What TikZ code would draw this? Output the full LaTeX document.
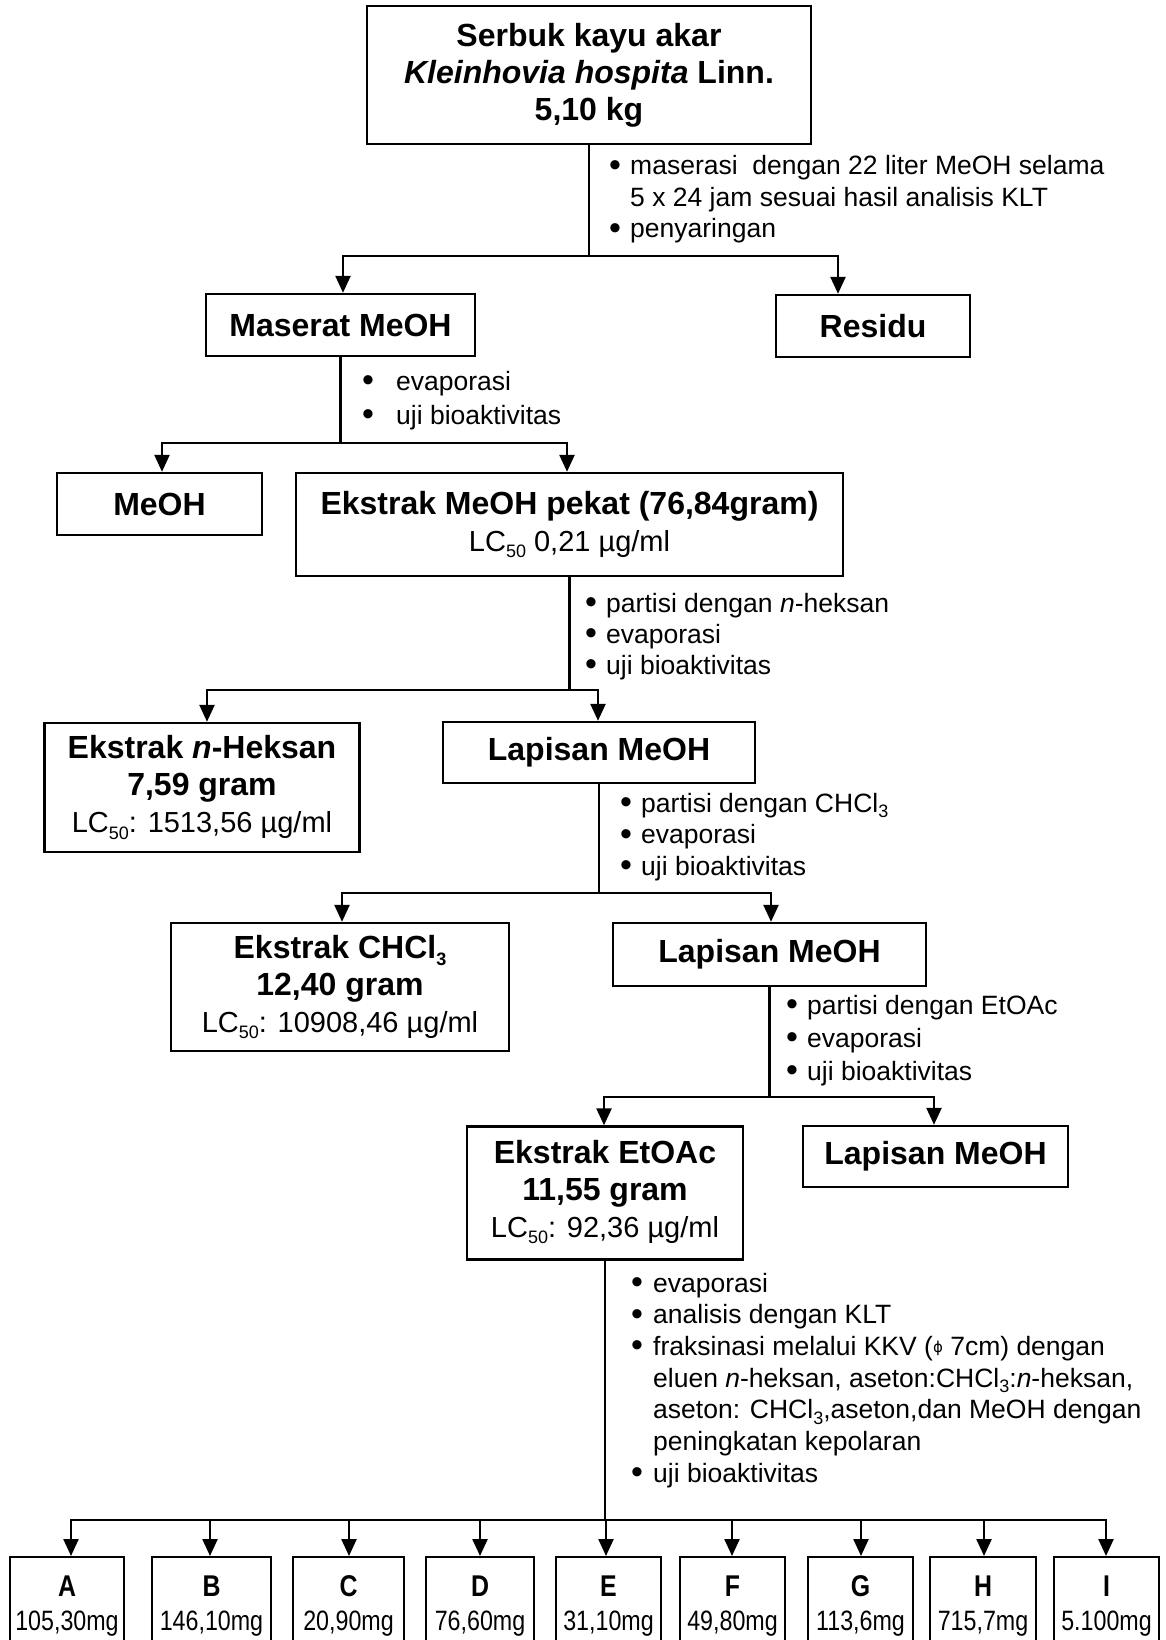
\documentclass[tikz,border=0pt]{standalone}
\usepackage{fontspec}
\setmainfont{Liberation Sans}
\newfontfamily\narrowfont[FakeStretch=0.83]{Liberation Sans}
\newfontfamily\dejavufont{DejaVu Sans}
\usetikzlibrary{arrows.meta}
\newcommand\sbs[1]{\raisebox{-0.22em}{\fontsize{18}{18}\selectfont #1}}
\newcommand\bul[1][21pt]{\makebox[#1][l]{\raisebox{-1.5pt}{\fontsize{34}{34}\selectfont •}}}
\newcommand\regl[1]{{\mdseries\fontsize{29}{37}\selectfont #1}}
\newcommand\fracl[2]{{\bfseries\fontsize{30}{34}\selectfont #1}\\#2}
\newcommand\phisym{\raisebox{0.12em}{\dejavufont\fontsize{15}{15}\selectfont ϕ}}
\tikzset{
  box/.style={draw, line width=2.4pt, inner sep=0pt, align=center,
    font=\fontsize{32}{37}\selectfont\bfseries},
  conn/.style={line width=2.4pt, line cap=rect},
  arr/.style={line width=2.4pt, -{Triangle[length=17pt,width=15pt]}},
  anno/.style={inner sep=0pt, anchor=base west},
  fracbox/.style={draw, line width=2.4pt, inner sep=0pt, align=center,
    minimum height=98pt, anchor=north,
    font=\narrowfont\fontsize{28}{34}\selectfont},
}
\begin{document}
\begin{tikzpicture}[x=1pt,y=-1pt]
\useasboundingbox (0,0) rectangle (1165,1640);
\fill[white] (0,0) rectangle (1165,1640);

% ---------- boxes ----------
\node[box, minimum width=444pt, minimum height=138pt] (top) at (589,75)
  {Serbuk kayu akar\\ \textit{Kleinhovia hospita} Linn.\\ 5,10 kg};
\node[box, minimum width=269pt, minimum height=62pt] (maserat) at (340.5,325) {Maserat MeOH};
\node[box, minimum width=194pt, minimum height=62pt] (residu) at (873,326) {Residu};
\node[box, minimum width=205pt, minimum height=62pt] (meoh) at (159.5,504) {MeOH};
\node[box, minimum width=547pt, minimum height=103pt] (pekat) at (569.5,524.5)
  {Ekstrak MeOH pekat (76,84gram)\\ \regl{LC\sbs{50} 0,21 µg/ml}};
\node[box, minimum width=315pt, minimum height=129pt] (heksan) at (202,787.5)
  {Ekstrak \textit{n}-Heksan\\ 7,59 gram\\ \regl{LC\sbs{50}: 1513,56 µg/ml}};
\node[box, minimum width=312pt, minimum height=61pt] (lap1) at (599,752.5) {Lapisan MeOH};
\node[box, minimum width=338pt, minimum height=128pt] (chcl) at (340,987)
  {Ekstrak CHCl\sbs{3}\\ 12,40 gram\\ \regl{LC\sbs{50}: 10908,46 µg/ml}};
\node[box, minimum width=313pt, minimum height=63pt] (lap2) at (769.5,954.5) {Lapisan MeOH};
\node[box, minimum width=276pt, minimum height=133pt] (etoac) at (605,1193)
  {Ekstrak EtOAc\\ 11,55 gram\\ \regl{LC\sbs{50}: 92,36 µg/ml}\\[-29pt]\mbox{}};
\node[box, minimum width=265pt, minimum height=61pt] (lap3) at (935.5,1156.5) {Lapisan MeOH};

% ---------- fractions ----------
\node[fracbox, minimum width=114pt] (fA) at (67,1556) {\fracl{A}{105,30mg}};
\node[fracbox, minimum width=119pt] (fB) at (211.5,1556) {\fracl{B}{146,10mg}};
\node[fracbox, minimum width=111pt] (fC) at (348.5,1556) {\fracl{C}{20,90mg}};
\node[fracbox, minimum width=108pt] (fD) at (480,1556) {\fracl{D}{76,60mg}};
\node[fracbox, minimum width=105pt] (fE) at (608.5,1556) {\fracl{E}{31,10mg}};
\node[fracbox, minimum width=105pt] (fF) at (732.5,1556) {\fracl{F}{49,80mg}};
\node[fracbox, minimum width=105pt] (fG) at (860.5,1556) {\fracl{G}{113,6mg}};
\node[fracbox, minimum width=106pt] (fH) at (983,1556) {\fracl{H}{715,7mg}};
\node[fracbox, minimum width=105pt] (fI) at (1106.5,1556) {\fracl{I}{5.100mg}};

% ---------- annotations ----------
\node[anno, font=\fontsize{26.5}{31.5}\selectfont] (a1) at (609,175)
  {\begin{tabular}[t]{@{}l@{}l@{}}
   \bul & maserasi\ \ dengan 22 liter MeOH selama\\
        & 5 x 24 jam sesuai hasil analisis KLT\\
   \bul & penyaringan
   \end{tabular}};
\node[anno, font=\fontsize{26.5}{34}\selectfont] (a2) at (362,390)
  {\begin{tabular}[t]{@{}l@{}l@{}}
   \bul[34pt] & evaporasi\\
   \bul[34pt] & uji bioaktivitas
   \end{tabular}};
\node[anno, font=\fontsize{26.5}{31}\selectfont] (a3) at (585,612)
  {\begin{tabular}[t]{@{}l@{}l@{}}
   \bul & partisi dengan \textit{n}-heksan\\
   \bul & evaporasi\\
   \bul & uji bioaktivitas
   \end{tabular}};
\node[anno, font=\fontsize{26.5}{31.5}\selectfont] (a4) at (620,812)
  {\begin{tabular}[t]{@{}l@{}l@{}}
   \bul & partisi dengan CHCl\sbs{3}\\
   \bul & evaporasi\\
   \bul & uji bioaktivitas
   \end{tabular}};
\node[anno, font=\fontsize{26.5}{33}\selectfont] (a5) at (786,1014)
  {\begin{tabular}[t]{@{}l@{}l@{}}
   \bul & partisi dengan EtOAc\\
   \bul & evaporasi\\
   \bul & uji bioaktivitas
   \end{tabular}};
\node[anno, font=\fontsize{26.5}{31.7}\selectfont] (a6) at (631,1292)
  {\begin{tabular}[t]{@{}l@{}l@{}}
   \bul[22pt] & evaporasi\\
   \bul[22pt] & analisis dengan KLT\\
   \bul[22pt] & fraksinasi melalui KKV (\phisym\ 7cm) dengan\\
              & eluen \textit{n}-heksan, aseton:CHCl\sbs{3}:\textit{n}-heksan,\\
              & aseton: CHCl\sbs{3},aseton,dan MeOH dengan\\
              & peningkatan kepolaran\\
   \bul[22pt] & uji bioaktivitas
   \end{tabular}};

% ---------- connectors ----------
% branch 1
\coordinate (b1L) at (343,256); \coordinate (b1R) at (838,256);
\draw[conn] (top.south) -- (top.south |- b1L);
\draw[conn] (b1L) -- (b1R);
\draw[arr] (b1L) -- (b1L |- maserat.north);
\draw[arr] (b1R) -- (b1R |- residu.north);
% branch 2
\coordinate (b2L) at (162,443); \coordinate (b2R) at (567,443);
\draw[conn] (maserat.south) -- (maserat.south |- b2L);
\draw[conn] (b2L) -- (b2R);
\draw[arr] (b2L) -- (b2L |- meoh.north);
\draw[arr] (b2R) -- (b2R |- pekat.north);
% branch 3
\coordinate (b3L) at (207,690); \coordinate (b3R) at (598,690);
\draw[conn] (pekat.south) -- (pekat.south |- b3L);
\draw[conn] (b3L) -- (b3R);
\draw[arr] (b3L) -- (b3L |- heksan.north);
\draw[arr] (b3R) -- (b3R |- lap1.north);
% branch 4
\coordinate (b4L) at (342,893); \coordinate (b4R) at (771,893);
\draw[conn] (lap1.south) -- (lap1.south |- b4L);
\draw[conn] (b4L) -- (b4R);
\draw[arr] (b4L) -- (b4L |- chcl.north);
\draw[arr] (b4R) -- (b4R |- lap2.north);
% branch 5
\coordinate (b5L) at (604,1097); \coordinate (b5R) at (934,1097);
\draw[conn] (lap2.south) -- (lap2.south |- b5L);
\draw[conn] (b5L) -- (b5R);
\draw[arr] (b5L) -- (b5L |- etoac.north);
\draw[arr] (b5R) -- (b5R |- lap3.north);
% branch 6
\coordinate (b6L) at (71,1520); \coordinate (b6R) at (1106,1520);
\draw[conn] (etoac.south) -- (etoac.south |- b6L);
\draw[conn] (b6L) -- (b6R);
\draw[arr] (b6L) -- (b6L |- fA.north);
\draw[arr] (210,1520) -- (210,1520 |- fB.north);
\draw[arr] (349,1520) -- (349,1520 |- fC.north);
\draw[arr] (480,1520) -- (480,1520 |- fD.north);
\draw[arr] (606,1520) -- (606,1520 |- fE.north);
\draw[arr] (732,1520) -- (732,1520 |- fF.north);
\draw[arr] (861,1520) -- (861,1520 |- fG.north);
\draw[arr] (984,1520) -- (984,1520 |- fH.north);
\draw[arr] (b6R) -- (b6R |- fI.north);
\end{tikzpicture}
\end{document}
